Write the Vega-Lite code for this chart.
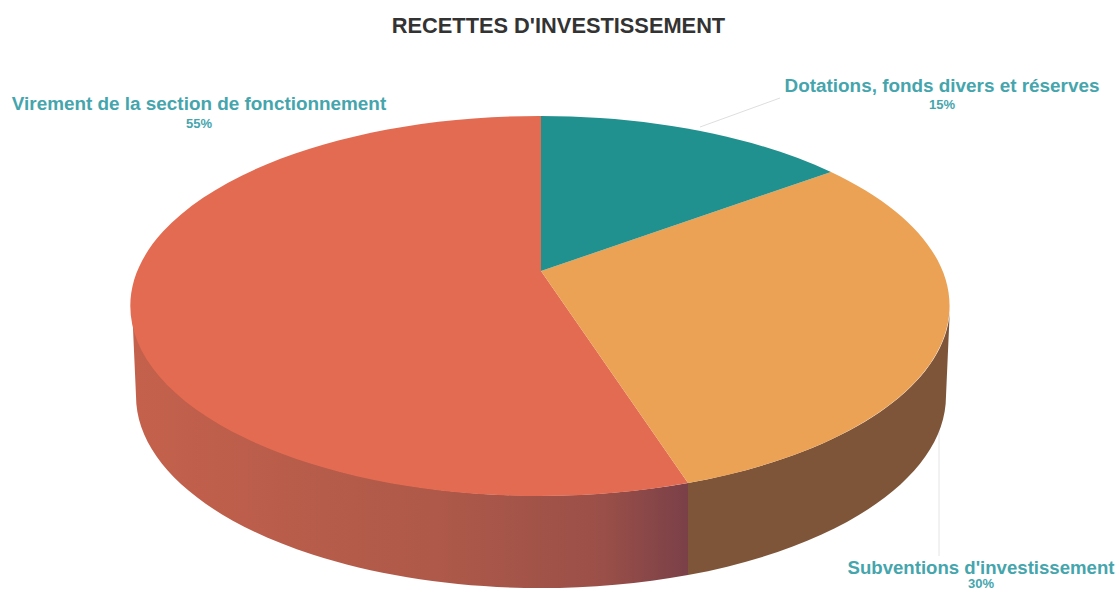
{
  "$schema": "https://vega.github.io/schema/vega-lite/v6.json",
  "width": 1119,
  "height": 592,
  "padding": 0,
  "autosize": {"type": "none"},
  "background": "white",
  "view": {"stroke": null},
  "title": {"text": "RECETTES D'INVESTISSEMENT", "font": "Liberation Sans", "fontSize": 21.8, "fontWeight": "bold", "color": "#333333", "anchor": "middle", "frame": "group", "dx": -1, "dy": 60, "offset": 0, "baseline": "bottom"},
  "datasets": {"parts": [
    {"part": "Virement de la section de fonctionnement", "pct": "55%", "share": 55},
    {"part": "Subventions d'investissement", "pct": "30%", "share": 30},
    {"part": "Dotations, fonds divers et réserves", "pct": "15%", "share": 15}
  ]},
  "data": {"name": "parts"},
  "encoding": {
    "x": {"datum": 541, "type": "quantitative", "scale": {"domain": [0, 1119], "nice": false, "zero": false}, "axis": null},
    "y": {"datum": 271, "type": "quantitative", "scale": {"domain": [0, 592], "reverse": true, "nice": false, "zero": false}, "axis": null}
  },
  "layer": [
    {"transform": [{"filter": "datum.share == 15"}],
     "mark": {"type": "rule", "color": "#dedede", "strokeWidth": 1},
     "encoding": {"x": {"datum": 700}, "y": {"datum": 127}, "x2": {"datum": 780}, "y2": {"datum": 98}}},
    {"transform": [{"filter": "datum.share == 30"}],
     "mark": {"type": "rule", "color": "#e4e4e4", "strokeWidth": 1},
     "encoding": {"x": {"datum": 939}, "y": {"datum": 420}, "x2": {"datum": 939}, "y2": {"datum": 556}}},
    {"transform": [{"filter": "datum.share == 55"}],
     "mark": {"type": "point", "filled": true, "opacity": 1, "size": 4,
       "shape": "M-409,35 A409,190 0 0 0 147,212 L147,304 A405,192 0 0 1 -405,125 Z",
       "fill": {"gradient": "linear", "x1": 0, "y1": 0, "x2": 1, "y2": 0, "stops": [
         {"offset": 0, "color": "#c4614c"}, {"offset": 0.55, "color": "#ae5949"}, {"offset": 0.85, "color": "#9a4f48"}, {"offset": 1, "color": "#7a4048"}]}}},
    {"transform": [{"filter": "datum.share == 30"}],
     "mark": {"type": "point", "filled": true, "opacity": 1, "size": 4,
       "shape": "M147,212 A409,190 0 0 0 409,35 L405,125 A405,192 0 0 1 147,304 Z",
       "fill": "#7f5539"}},
    {"transform": [{"filter": "datum.share == 55"}],
     "mark": {"type": "point", "filled": true, "opacity": 1, "size": 4, "fill": "#e36b52",
       "shape": "M0,0 L147,212 A409,190 0 1 1 0,-155 Z"}},
    {"transform": [{"filter": "datum.share == 30"}],
     "mark": {"type": "point", "filled": true, "opacity": 1, "size": 4, "fill": "#eba254",
       "shape": "M0,0 L290,-99 A409,190 0 0 1 147,212 Z"}},
    {"transform": [{"filter": "datum.share == 15"}],
     "mark": {"type": "point", "filled": true, "opacity": 1, "size": 4, "fill": "#20918f",
       "shape": "M0,0 L0,-155 A409,190 0 0 1 290,-99 Z"}},
    {"transform": [{"filter": "datum.share == 55"}],
     "mark": {"type": "text", "font": "Liberation Sans", "fontWeight": "bold", "fontSize": 18.9, "color": "#45a5ad", "baseline": "middle"},
     "encoding": {"text": {"field": "part"}, "x": {"datum": 199}, "y": {"datum": 104}}},
    {"transform": [{"filter": "datum.share == 55"}],
     "mark": {"type": "text", "font": "Liberation Sans", "fontWeight": "bold", "fontSize": 13, "color": "#45a5ad", "baseline": "middle"},
     "encoding": {"text": {"field": "pct"}, "x": {"datum": 199}, "y": {"datum": 124}}},
    {"transform": [{"filter": "datum.share == 15"}],
     "mark": {"type": "text", "font": "Liberation Sans", "fontWeight": "bold", "fontSize": 18.9, "color": "#45a5ad", "baseline": "middle"},
     "encoding": {"text": {"field": "part"}, "x": {"datum": 942}, "y": {"datum": 86}}},
    {"transform": [{"filter": "datum.share == 15"}],
     "mark": {"type": "text", "font": "Liberation Sans", "fontWeight": "bold", "fontSize": 13, "color": "#45a5ad", "baseline": "middle"},
     "encoding": {"text": {"field": "pct"}, "x": {"datum": 942}, "y": {"datum": 105}}},
    {"transform": [{"filter": "datum.share == 30"}],
     "mark": {"type": "text", "font": "Liberation Sans", "fontWeight": "bold", "fontSize": 18.6, "color": "#45a5ad", "baseline": "middle"},
     "encoding": {"text": {"field": "part"}, "x": {"datum": 981}, "y": {"datum": 568}}},
    {"transform": [{"filter": "datum.share == 30"}],
     "mark": {"type": "text", "font": "Liberation Sans", "fontWeight": "bold", "fontSize": 13, "color": "#45a5ad", "baseline": "middle"},
     "encoding": {"text": {"field": "pct"}, "x": {"datum": 981}, "y": {"datum": 584}}}
  ]
}
